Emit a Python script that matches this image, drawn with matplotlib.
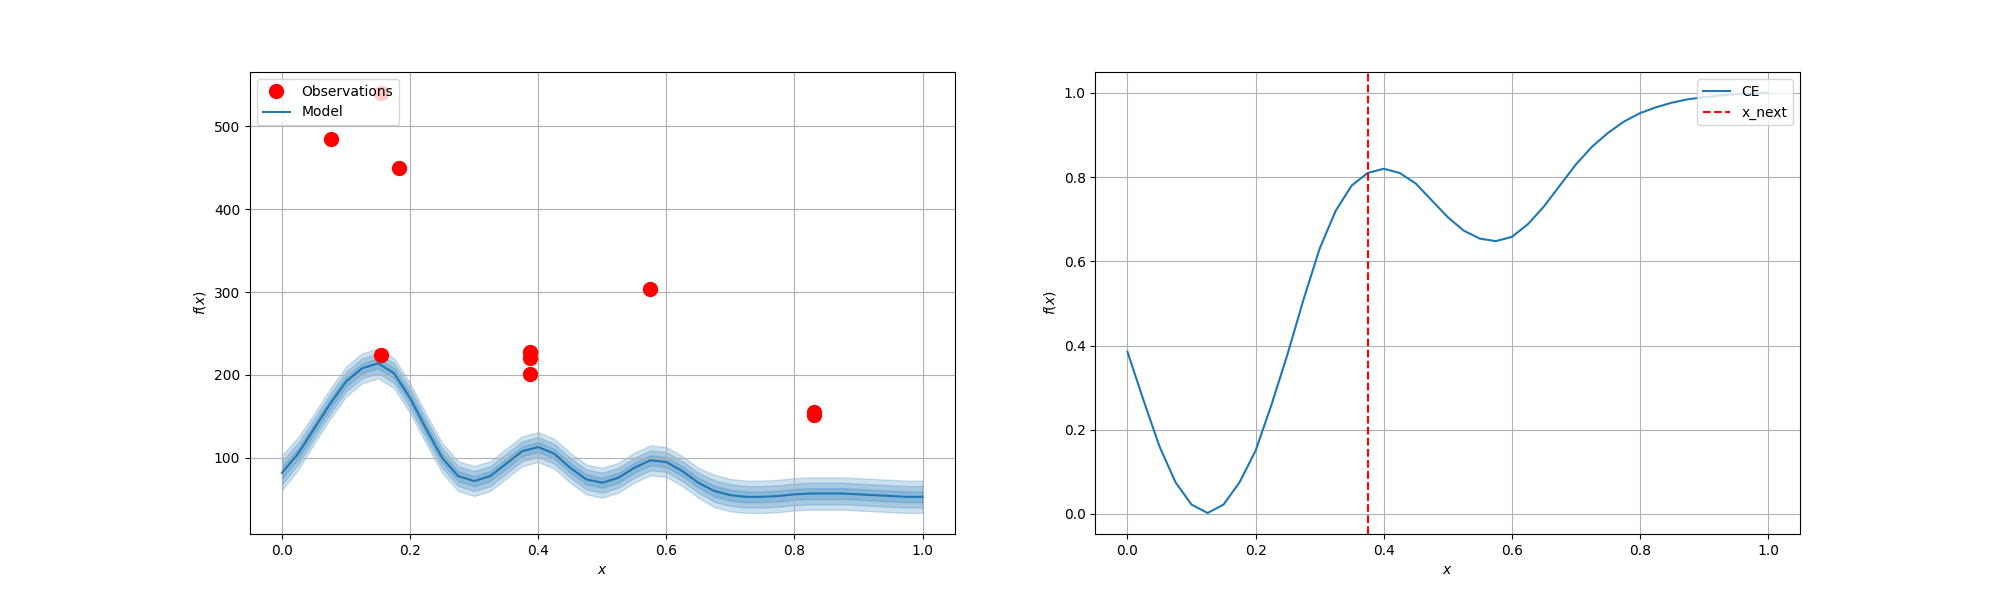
import numpy as np
import matplotlib.pyplot as plt

# observations
obs_x = [0.077, 0.155, 0.155, 0.182, 0.387, 0.387, 0.387, 0.575, 0.83, 0.83]
obs_y = [485, 540, 224, 449, 228, 220, 201, 304, 155, 152]

# model mean / std read at 0.025 steps
grid_x = np.linspace(0, 1, 41)
mean_y = [82, 105, 135, 165, 192, 208, 214, 202, 172, 135, 100, 78, 72, 78, 93, 108,
          113, 105, 88, 74, 70, 76, 88, 97, 95, 84, 70, 60, 55, 53, 53, 54, 56, 57,
          57, 57, 56, 55, 54, 53, 53]
std_y = [7, 6.5, 6, 6, 6, 6, 6, 6, 6, 6, 6, 6, 6, 6, 6, 6, 6, 6, 6, 6, 6, 6, 6, 6,
         6, 6, 6, 6.5, 6.5, 6.5, 6.5, 6.5, 6.5, 6.5, 6.5, 6.5, 6.5, 6.5, 6.5, 6.5, 6.5]

# CE acquisition
ce_y = [0.385, 0.27, 0.16, 0.075, 0.022, 0.002, 0.022, 0.075, 0.15, 0.26, 0.38, 0.51, 0.63,
        0.72, 0.78, 0.81, 0.82, 0.81, 0.785, 0.745, 0.705, 0.673, 0.654, 0.648, 0.658, 0.688,
        0.73, 0.78, 0.83, 0.872, 0.905, 0.932, 0.952, 0.966, 0.977, 0.985, 0.99, 0.994,
        0.997, 0.999, 1.0]
x_next = 0.375

mean_y = np.array(mean_y)
std_y = np.array(std_y)

fig, (ax1, ax2) = plt.subplots(1, 2, figsize=(20, 6))

ax1.plot(obs_x, obs_y, 'o', color='red', markersize=10, label='Observations')
ax1.plot(grid_x, mean_y, color='C0', label='Model')
for k in (1, 2, 3):
    ax1.fill_between(grid_x, mean_y - k * std_y, mean_y + k * std_y, color='C0', alpha=0.22)
ax1.set_xlabel('$x$')
ax1.set_ylabel('$f(x)$')
ax1.grid(True)
ax1.legend(loc='upper left')

ax2.plot(grid_x, ce_y, color='C0', label='CE')
ax2.axvline(x_next, color='red', linestyle='--', label='x_next')
ax2.set_xlabel('$x$')
ax2.set_ylabel('$f(x)$')
ax2.grid(True)
ax2.legend(loc='upper right')

fig.savefig('out.png', dpi=100)
